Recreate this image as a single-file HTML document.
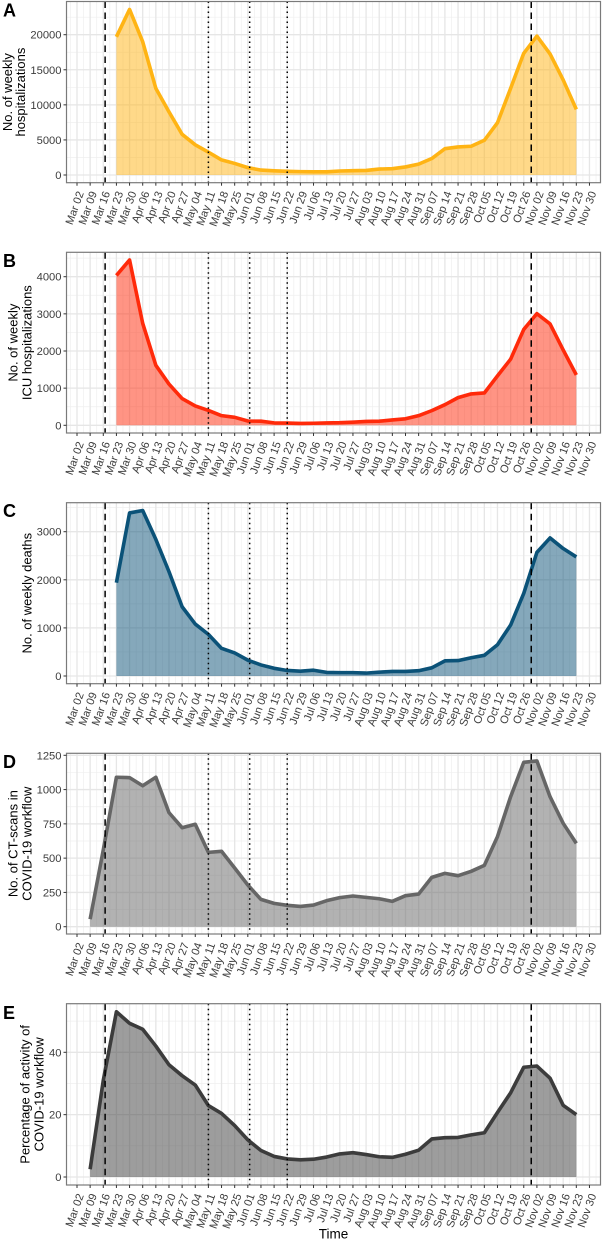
<!DOCTYPE html>
<html lang="en">
<head>
<meta charset="utf-8">
<title>Weekly COVID-19 hospital activity</title>
<style>
html,body{margin:0;padding:0;background:#fff;}
svg{display:block;font-family:"Liberation Sans",Arial,sans-serif;}
</style>
</head>
<body>
<svg id="figure" xmlns="http://www.w3.org/2000/svg" width="602" height="1240" viewBox="0 0 602 1240"></svg>
<script>
// ---------- chart data ----------
const weekLabels = ["Mar 02","Mar 09","Mar 16","Mar 23","Mar 30","Apr 06","Apr 13","Apr 20","Apr 27","May 04","May 11","May 18","May 25","Jun 01","Jun 08","Jun 15","Jun 22","Jun 29","Jul 06","Jul 13","Jul 20","Jul 27","Aug 03","Aug 10","Aug 17","Aug 24","Aug 31","Sep 07","Sep 14","Sep 21","Sep 28","Oct 05","Oct 12","Oct 19","Oct 26","Nov 02","Nov 09","Nov 16","Nov 23","Nov 30"];

const hospitalizations = [null,null,null,19700,23600,19000,12350,9000,5800,4300,3250,2150,1650,1050,700,600,520,480,450,450,570,620,650,850,900,1150,1550,2350,3750,4000,4100,4950,7450,12350,17350,19800,17250,13550,9350,null];
const icuHospitalizations = [null,null,null,4035,4450,2745,1615,1110,720,520,400,260,215,115,110,65,60,50,55,65,70,85,105,110,145,175,260,395,555,745,845,870,1330,1780,2580,3005,2730,2030,1355,null];
const deaths = [null,null,null,1940,3390,3440,2840,2170,1440,1080,865,575,480,330,230,160,115,100,120,75,70,70,60,80,95,95,110,170,315,320,380,430,650,1060,1720,2570,2870,2650,2475,null];
const ctScans = [null,55,560,1090,1087,1028,1090,832,722,747,542,550,428,304,199,170,156,148,158,190,212,224,214,204,185,226,238,360,389,372,404,447,657,948,1199,1209,948,754,608,null];
const activityPercent = [null,2.5,31,53,49.3,47.4,42,36,32.5,29.5,22.9,20.4,16.5,11.9,8.5,6.6,5.8,5.5,5.7,6.4,7.4,7.8,7.2,6.5,6.3,7.3,8.6,12.2,12.6,12.7,13.5,14.2,20.7,27,35.2,35.6,31.7,23,20,null];

const hospitalizationTicks = [0,5000,10000,15000,20000];
const icuTicks = [0,1000,2000,3000,4000];
const deathTicks = [0,1000,2000,3000];
const ctTicks = [0,250,500,750,1000,1250];
const activityTicks = [0,20,40];

// event markers, in weeks since Mar 02
const dashedEvents = [2.14,34.57];
const dottedEvents = [10,13.14,16];

// ---------- layout ----------
const NS = "http://www.w3.org/2000/svg";
const svg = document.getElementById("figure");
const plotLeft = 66.5, plotRight = 600.5;
const xFirst = 77, xStep = 13.14;
function xScale(week){ return xFirst + xStep*week; }

const panels = [
 {key:"a",tag:"A",tagY:16.7,top:1.5,bottom:182.7,zero:175,refValue:20000,refY:34.7,ticks:hospitalizationTicks,values:hospitalizations,line:"#FFB414",titles:["No. of weekly","hospitalizations"],titleX:[12,25]},
 {key:"b",tag:"B",tagY:267,top:252.3,bottom:433,zero:425.3,refValue:4000,refY:276.7,ticks:icuTicks,values:icuHospitalizations,line:"#FF2A0A",titles:["No. of weekly","ICU hospitalizations"],titleX:[17.5,31.5]},
 {key:"c",tag:"C",tagY:517,top:502.7,bottom:683.7,zero:676,refValue:3000,refY:531.7,ticks:deathTicks,values:deaths,line:"#0B5278",titles:["No. of weekly deaths"],titleX:[31.5]},
 {key:"d",tag:"D",tagY:768,top:753.3,bottom:934,zero:926.7,refValue:1250,refY:755.3,ticks:ctTicks,values:ctScans,line:"#666666",titles:["No. of CT-scans in","COVID-19 workflow"],titleX:[17.5,31.5]},
 {key:"e",tag:"E",tagY:1019,top:1003.7,bottom:1185,zero:1177,refValue:40,refY:1052.3,ticks:activityTicks,values:activityPercent,line:"#3C3C3C",titles:["Percentage of activity of","COVID-19 workflow"],titleX:[29.5,43.5]}
];

function mk(tag, attrs, parent){
  const node = document.createElementNS(NS, tag);
  for (const k in attrs) node.setAttribute(k, attrs[k]);
  parent.appendChild(node);
  return node;
}

function drawPanel(p){
  const yScale = v => p.zero - (v/p.refValue)*(p.zero - p.refY);

  const group = mk("g", {}, svg);
  
  

  const clipId = "clip-" + p.key;
  const defs = mk("defs", {}, group);
  const clip = mk("clipPath", {id:clipId}, defs);
  mk("rect", {x:plotLeft,y:p.top,width:plotRight-plotLeft,height:p.bottom-p.top}, clip);

  const grid = mk("g", {"clip-path":"url(#"+clipId+")"}, group);
  
  

  // minor gridlines
  const yHalf = (p.ticks[1]-p.ticks[0])/2;
  for (let i = -1; i < p.ticks.length; i++){
    const base = i < 0 ? p.ticks[0]-yHalf : p.ticks[i]+yHalf;
    const minorY = mk("line", {x1:plotLeft,x2:plotRight,y1:yScale(base),y2:yScale(base),stroke:"#efefef","stroke-width":0.7}, grid);
    
    
  }
  for (let i = -1; i < weekLabels.length; i++){
    const mx = xScale(i + 0.5);
    const minorX = mk("line", {x1:mx,x2:mx,y1:p.top,y2:p.bottom,stroke:"#efefef","stroke-width":0.7}, grid);
    
    
  }
  // major gridlines
  p.ticks.forEach(t => {
    const majorY = mk("line", {x1:plotLeft,x2:plotRight,y1:yScale(t),y2:yScale(t),stroke:"#e6e6e6","stroke-width":1.3}, grid);
    
    
  });
  weekLabels.forEach((_, i) => {
    const majorX = mk("line", {x1:xScale(i),x2:xScale(i),y1:p.top,y2:p.bottom,stroke:"#e6e6e6","stroke-width":1.3}, grid);
    
    
  });

  // area + line, built from the series values
  const pts = [];
  p.values.forEach((v, i) => { if (v !== null) pts.push([xScale(i), yScale(v)]); });
  const lineStr = pts.map(q => q[0].toFixed(2)+","+q[1].toFixed(2)).join(" ");
  const areaStr = pts[0][0].toFixed(2)+","+p.zero+" "+lineStr+" "+pts[pts.length-1][0].toFixed(2)+","+p.zero;

  const area = mk("polygon", {points:areaStr,fill:p.line,"fill-opacity":0.5}, group);
  
  

  const line = mk("polyline", {points:lineStr,fill:"none",stroke:p.line,"stroke-width":3.6,"stroke-linejoin":"round","stroke-linecap":"butt"}, group);
  
  

  // event lines
  dashedEvents.forEach(w => {
    const dashed = mk("line", {x1:xScale(w),x2:xScale(w),y1:p.top,y2:p.bottom,stroke:"#000","stroke-width":1.5,"stroke-dasharray":"6.5 4.5"}, group);
    
    
  });
  dottedEvents.forEach(w => {
    const dotted = mk("line", {x1:xScale(w),x2:xScale(w),y1:p.top,y2:p.bottom,stroke:"#000","stroke-width":1.5,"stroke-dasharray":"1.5 3.5"}, group);
    
    
  });

  // border
  const border = mk("rect", {x:plotLeft,y:p.top,width:plotRight-plotLeft,height:p.bottom-p.top,fill:"none",stroke:"#7a7a7a","stroke-width":1.2}, group);
  
  

  // y axis
  p.ticks.forEach(t => {
    const tick = mk("line", {x1:63.5,x2:plotLeft,y1:yScale(t),y2:yScale(t),stroke:"#333","stroke-width":1}, group);
    
    
    const label = mk("text", {x:61.5,y:yScale(t)+4,"text-anchor":"end","font-size":"11.2",fill:"#3d3d3d"}, group);
    label.textContent = String(t);
    
    
  });

  // x axis
  weekLabels.forEach((name, i) => {
    const tick = mk("line", {x1:xScale(i),x2:xScale(i),y1:p.bottom,y2:p.bottom+3,stroke:"#333","stroke-width":1}, group);
    
    
    const label = mk("text", {transform:"translate("+(xScale(i)+7).toFixed(2)+","+(p.bottom+10.3)+") rotate(-70)","text-anchor":"end","font-size":"11.1",fill:"#3d3d3d"}, group);
    label.textContent = name;
    
    
  });

  // y title
  const midY = (p.top + p.bottom)/2;
  p.titles.forEach((text, i) => {
    const title = mk("text", {transform:"translate("+p.titleX[i]+","+midY+") rotate(-90)","text-anchor":"middle","font-size":"13",fill:"#000"}, group);
    title.textContent = text;
    
    
  });

  // panel tag
  const tag = mk("text", {x:3,y:p.tagY,"font-size":"18","font-weight":"bold",fill:"#000"}, group);
  tag.textContent = p.tag;
  
  
}

panels.forEach(drawPanel);

const xTitle = mk("text", {x:333.5,y:1238.5,"text-anchor":"middle","font-size":"13.5",fill:"#000"}, svg);
xTitle.textContent = "Time";


</script>
</body>
</html>
